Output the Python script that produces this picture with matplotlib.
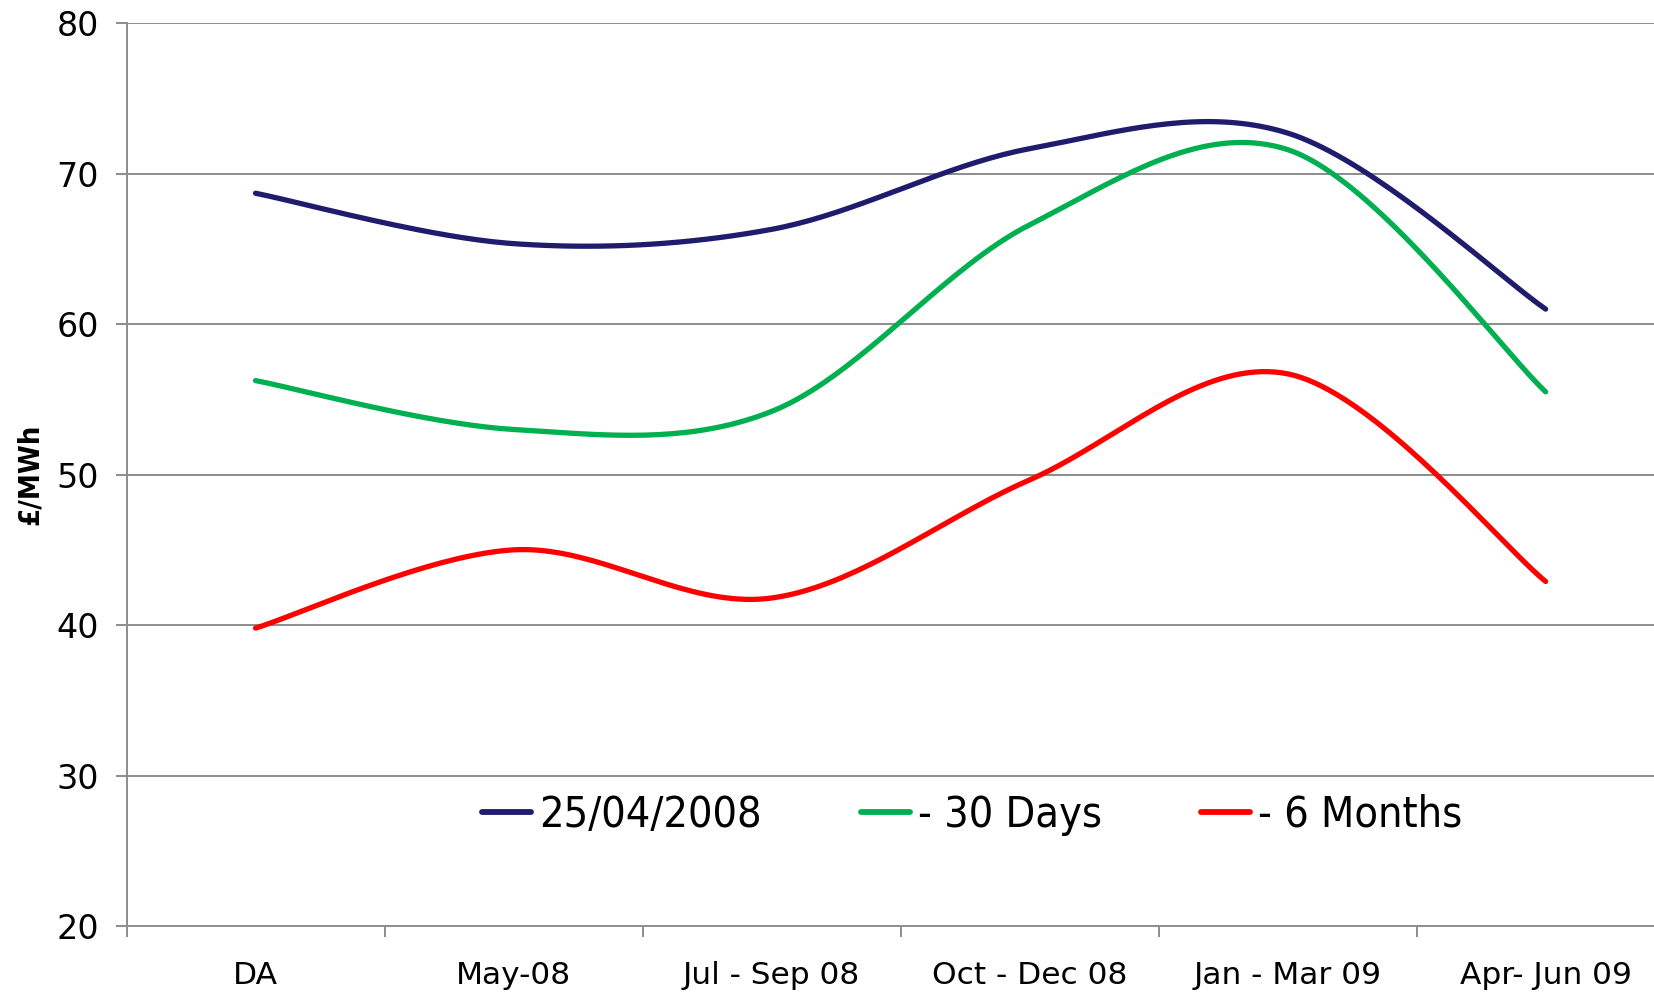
import numpy as np
import matplotlib.pyplot as plt

categorias = ['DA', 'May-08', 'Jul - Sep 08', 'Oct - Dec 08', 'Jan - Mar 09', 'Apr- Jun 09']
serie_fecha = [68.7, 65.35, 66.3, 71.66, 72.7, 61.0]
serie_30d = [56.25, 53.0, 54.2, 66.6, 71.6, 55.5]
serie_6m = [39.8, 45.0, 41.8, 49.65, 56.7, 42.9]
etiquetas = ['25/04/2008', '- 30 Days', '- 6 Months']
colores = ['#1F1C6E', '#00B050', '#FF0000']


def suavizar(y, n=40):
    # curva tipo Excel: Bezier cubica con tangentes de Catmull-Rom
    x = np.arange(len(y), dtype=float)
    y = np.asarray(y, dtype=float)
    px = np.concatenate([[x[0]], x, [x[-1]]])
    py = np.concatenate([[y[0]], y, [y[-1]]])
    xs, ys = [], []
    t = np.linspace(0, 1, n)
    for i in range(len(y) - 1):
        p0 = np.array([px[i + 1], py[i + 1]])
        p3 = np.array([px[i + 2], py[i + 2]])
        c1 = p0 + (np.array([px[i + 2], py[i + 2]]) - np.array([px[i], py[i]])) / 6
        c2 = p3 - (np.array([px[i + 3], py[i + 3]]) - np.array([px[i + 1], py[i + 1]])) / 6
        b = ((1 - t) ** 3)[:, None] * p0 + (3 * (1 - t) ** 2 * t)[:, None] * c1 \
            + (3 * (1 - t) * t ** 2)[:, None] * c2 + (t ** 3)[:, None] * p3
        xs.extend(b[:, 0])
        ys.extend(b[:, 1])
    return np.array(xs), np.array(ys)


fig = plt.figure(figsize=(16.54, 9.92), dpi=100)
ax = fig.add_axes([0.0765, 0.0665, 1 - 0.0765, 0.9766 - 0.0665])

gris = '#8C8C8C'
for v in range(30, 90, 10):
    ax.axhline(v, color=gris, lw=1.4, zorder=1)

for datos, color, etiqueta in zip([serie_fecha, serie_30d, serie_6m], colores, etiquetas):
    xs, ys = suavizar(datos)
    ax.plot(xs, ys, color=color, lw=3.8, label=etiqueta, solid_capstyle='round', zorder=3)

ax.set_yticks(range(20, 90, 10))
ax.set_xticks(np.arange(len(categorias)))
ax.set_xticklabels(categorias, fontsize=22.5)
ax.set_xticks(np.arange(-0.5, 5.0, 1), minor=True)
ax.set_xlim(-0.5, 5.42)
ax.set_ylim(20, 80)
ax.tick_params(axis='x', which='major', length=0, pad=25)
ax.tick_params(axis='x', which='minor', length=8, width=1.4, color=gris, direction='out')
ax.tick_params(axis='y', length=8, width=1.4, color=gris, labelsize=24, pad=12)

for lado in ['top', 'right']:
    ax.spines[lado].set_visible(False)
for lado in ['left', 'bottom']:
    ax.spines[lado].set_color(gris)
    ax.spines[lado].set_linewidth(1.4)

ax.set_ylabel('£/MWh', fontsize=21, fontweight='bold', fontstretch='condensed', labelpad=9)

leg = ax.legend(loc='center', bbox_to_anchor=(0.5535, 0.123), ncol=3, frameon=False,
                handlelength=1.15, handletextpad=0.18, columnspacing=2.3,
                prop={'size': 31, 'stretch': 'condensed'})
for linea in leg.get_lines():
    linea.set_linewidth(4.2)

fig.savefig('out.png', dpi=100)
